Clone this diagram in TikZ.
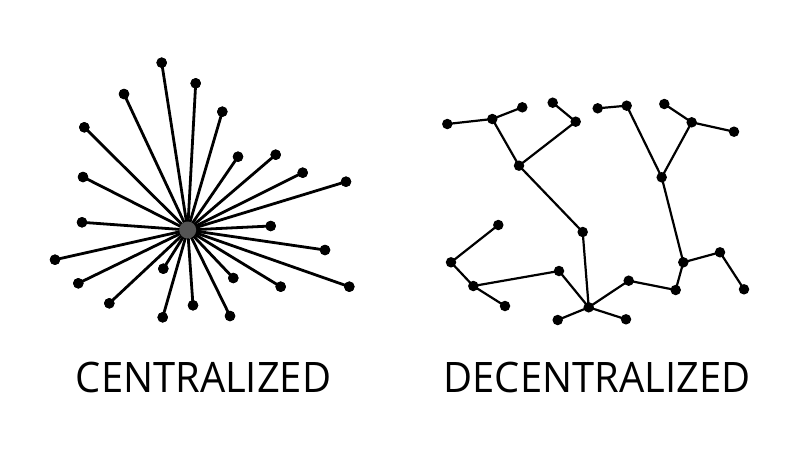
\documentclass[tikz,border=0pt]{standalone}
\usepackage{fontspec}
\setmainfont{Open Sans}[FakeStretch=0.95]
\begin{document}
\begin{tikzpicture}[x=1pt,y=-1pt,
  leaf/.style={circle,fill=black,inner sep=0pt,minimum size=10.5pt},
  hub/.style={circle,fill=black!67,inner sep=0pt,minimum size=17pt},
  spoke/.style={line width=2.8pt},
  link/.style={line width=2.2pt},
  lbl/.style={font=\fontsize{42}{42}\selectfont,inner sep=0pt,anchor=base}]
\useasboundingbox[fill=white] (0,0) rectangle (800,450);
% centralized
\coordinate (c) at (187.7,230);
\foreach \i/\x/\y in {1/161.7/62.7, 2/195.7/83.3, 3/124/94, 4/222.3/111.7, 5/84.3/127.3,
  6/238/156.7, 7/275.7/154.7, 8/302.7/172.7, 9/346/181.7, 10/83/177,
  11/82/222.3, 12/270.7/226, 13/325/250, 14/55/259.7, 15/349.3/286.7,
  16/78.3/283.3, 17/163.3/268.7, 18/233.3/278, 19/280.7/286.7, 20/109.3/303.3,
  21/193/305.3, 22/162.7/317.3, 23/230/316}
  {\node[leaf] (l\i) at (\x,\y) {};}
\foreach \i in {1,...,23} {\draw[spoke] (c) -- (l\i.center);}
\foreach \i/\x/\y in {1/161.7/62.7, 2/195.7/83.3, 3/124/94, 4/222.3/111.7, 5/84.3/127.3,
  6/238/156.7, 7/275.7/154.7, 8/302.7/172.7, 9/346/181.7, 10/83/177,
  11/82/222.3, 12/270.7/226, 13/325/250, 14/55/259.7, 15/349.3/286.7,
  16/78.3/283.3, 17/163.3/268.7, 18/233.3/278, 19/280.7/286.7, 20/109.3/303.3,
  21/193/305.3, 22/162.7/317.3, 23/230/316}
  {\node[leaf] at (\x,\y) {};}
\node[hub] (hub) at (c) {};
% decentralized
\foreach \i/\x/\y in {1/447.3/124, 2/492.3/119, 3/522.3/107.3, 4/552.7/102.7, 5/575.7/121.7,
  6/519/165.7, 7/597.7/108.3, 8/626.7/105.7, 9/664.3/104, 10/691.7/122.3,
  11/734/131.7, 12/661.7/177.3, 13/582.7/232, 14/498.3/225, 15/451/262.3,
  16/473.3/286, 17/505/306, 18/559/271, 19/588.7/307.3, 20/557.7/320,
  21/626/319.3, 22/628.7/280.7, 23/675.7/290, 24/683.3/262.3, 25/720/252.3,
  26/744/289.3}
  {\coordinate (a\i) at (\x,\y);}
\foreach \p/\q in {1/2,2/3,2/6,4/5,5/6,6/13,13/19,7/8,8/12,9/10,10/11,10/12,12/24,
  24/25,25/26,24/23,23/22,22/19,19/20,19/21,19/18,18/16,16/15,15/14,16/17}
  {\draw[link] (a\p) -- (a\q);}
\foreach \i in {1,...,26} {\node[leaf] (d\i) at (a\i) {};}
% labels
\node[lbl] (t1) at (203.5,392.3) {CENTRALIZED};
\node[lbl] (t2) at (597,392.3) {DECENTRALIZED};
\end{tikzpicture}
\end{document}
